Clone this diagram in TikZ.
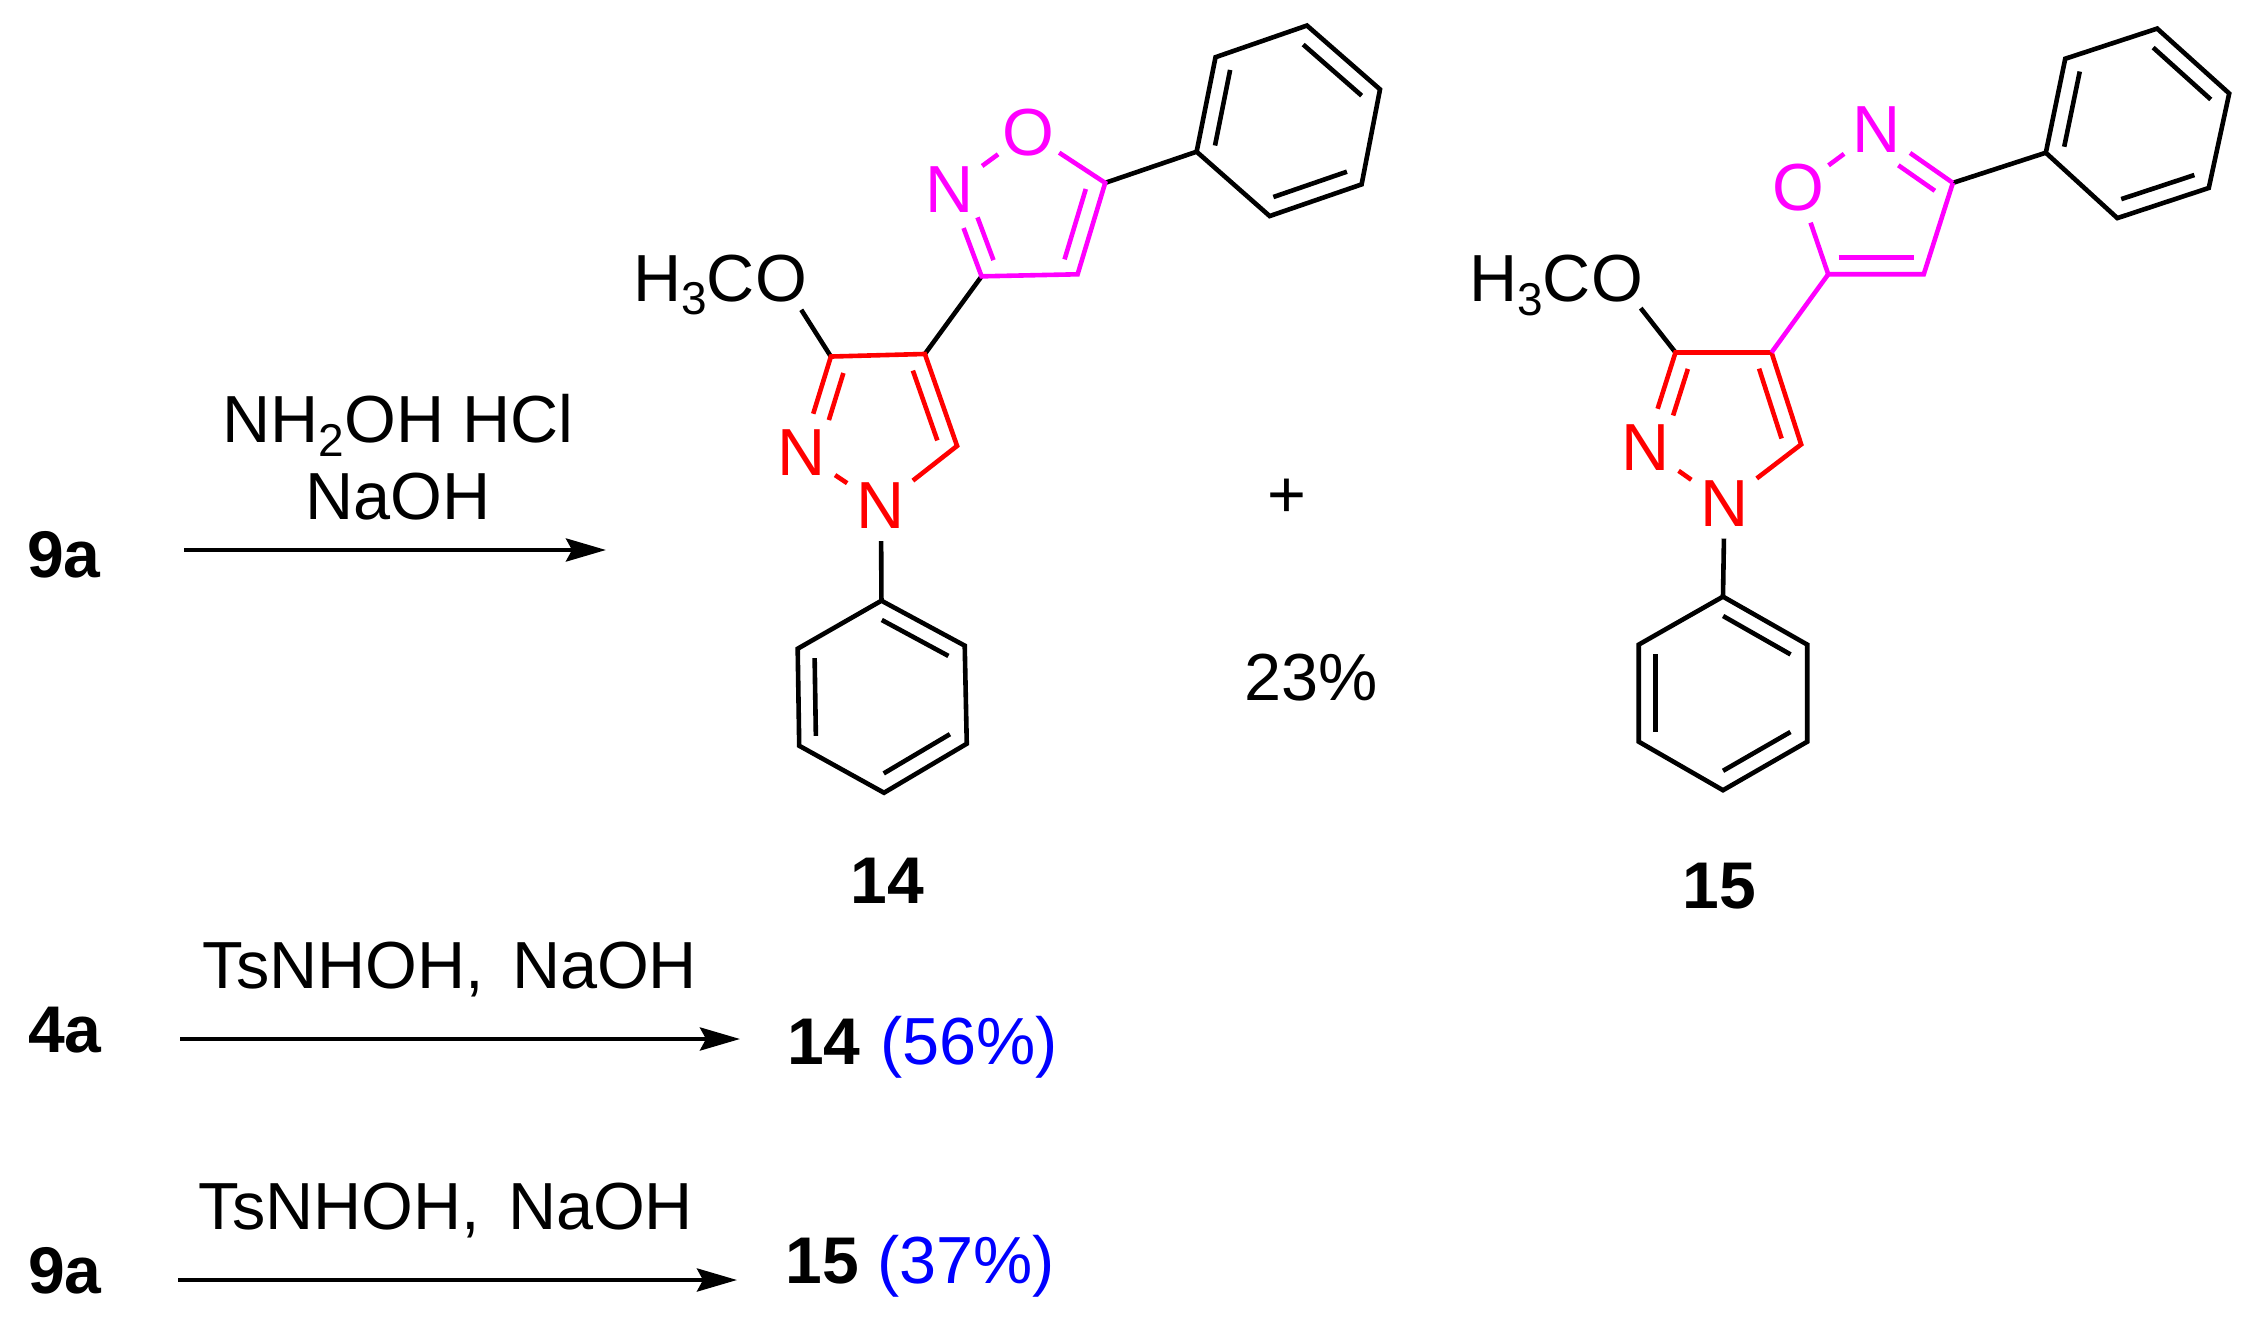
\documentclass[tikz,border=0pt]{standalone}
\usepackage{fontspec}
\setmainfont{Liberation Sans}
\usetikzlibrary{calc,arrows.meta}
\definecolor{ringred}{RGB}{255,0,0}
\definecolor{ringmag}{RGB}{255,0,255}
\definecolor{yieldblue}{RGB}{0,0,255}
\newcommand{\lowsub}[1]{\raisebox{-6.7pt}{\fontsize{23}{23}\selectfont #1}}
\newcommand{\innerbond}[4]{\draw ($(#1)!#3!(#2)!8.4pt!90:(#2)$) -- ($(#1)!#4!(#2)!8.4pt!90:(#2)$);}
\tikzset{
  txt/.style={font=\fontsize{33.3}{40}\selectfont,inner sep=0pt,anchor=base},
  boldtxt/.style={font=\fontsize{33}{40}\selectfont\bfseries,inner sep=0pt,anchor=base},
  yieldtxt/.style={txt,text=yieldblue},
  bond/.style={line width=2.3pt,line join=miter,line cap=butt},
  atomN/.style={circle,inner sep=0pt,minimum size=38.3pt,font=\fontsize{33.3}{40}\selectfont},
  atomO/.style={circle,inner sep=0pt,minimum size=34.2pt,font=\fontsize{33.3}{40}\selectfont},
  rxn/.style={line width=2.2pt,-{Stealth[length=20pt,width=11.5pt,inset=3pt]}},
  mol/.style={x=0.2554pt,y=-0.2554pt}
}
\begin{document}
\begin{tikzpicture}[x=0.5pt,y=-0.5pt]
\useasboundingbox (0,0) rectangle (2259,1320);
\fill[white] (0,0) rectangle (2259,1320);

% first reaction
\node[boldtxt] (s1) at (64,578) {9a};
\node[txt] (r1a) at (398,443) {NH\lowsub{2}OH HCl};
\node[txt] (r1b) at (398,520) {NaOH};
\coordinate (a1s) at (184,550);
\coordinate (a1e) at (606,550);
\draw[rxn] (a1s) -- (a1e);

% compound 14
\begin{scope}[shift={(600,0)},mol,bond]
  \coordinate (aC3) at (452,698);
  \coordinate (aC4) at (636,693);
  \coordinate (aC5) at (699,873);
  \coordinate (aIa) at (747,541);
  \coordinate (aIb) at (935,537);
  \coordinate (aIc) at (989,358);
  \coordinate (aq1) at (1168,297);
  \coordinate (aq2) at (1205,112);
  \coordinate (aq3) at (1384,50);
  \coordinate (aq4) at (1527,175);
  \coordinate (aq5) at (1491,361);
  \coordinate (aq6) at (1311,423);
  \coordinate (ap1) at (551,1176);
  \coordinate (ap2) at (387,1270);
  \coordinate (ap3) at (390,1460);
  \coordinate (ap4) at (556,1552);
  \coordinate (ap5) at (718,1456);
  \coordinate (ap6) at (714,1264);
  \node[atomN,text=ringred] (aN1) at (550,990) {N};
  \node[atomN,text=ringred] (aN2) at (394,886) {N};
  \node[atomN,text=ringmag] (aNi) at (684,372) {N};
  \node[atomO,text=ringmag] (aOi) at (838,259) {O};
  \node[atomO] (aOm) at (355,545) {O};
  \node[txt,anchor=base east] (aCH) at (308,590) {H\lowsub{3}C};
  % black bonds
  \draw (aOm) -- (aC3);
  \draw (aC4) -- (aIa);
  \draw (aIc) -- (aq1);
  \draw[shorten <=-2.6pt] (aN1) -- (ap1);
  \draw (aq1) -- (aq2) -- (aq3) -- (aq4) -- (aq5) -- (aq6) -- cycle;
  \innerbond{aq2}{aq1}{.1}{.9}
  \innerbond{aq4}{aq3}{.1}{.9}
  \innerbond{aq6}{aq5}{.1}{.9}
  \draw (ap1) -- (ap2) -- (ap3) -- (ap4) -- (ap5) -- (ap6) -- cycle;
  \innerbond{ap6}{ap1}{.1}{.9}
  \innerbond{ap2}{ap3}{.1}{.9}
  \innerbond{ap4}{ap5}{.1}{.9}
  % red ring
  \begin{scope}[draw=ringred]
    \draw (aN2) -- (aC3) -- (aC4) -- (aC5) -- (aN1);
    \draw (aN2) -- (aN1);
    \innerbond{aC3}{aN2}{.12}{.61}
    \innerbond{aC5}{aC4}{.12}{.88}
  \end{scope}
  % magenta ring
  \begin{scope}[draw=ringmag]
    \draw (aNi) -- (aIa) -- (aIb) -- (aIc) -- (aOi);
    \draw (aNi) -- (aOi);
    \innerbond{aIb}{aIc}{.11}{.88}
    \innerbond{aNi}{aIa}{.385}{.88}
  \end{scope}
\end{scope}

% plus and yield
\node[txt] (plus) at (1287,518) {+};
\node[txt] (y23) at (1311,700) {23\%};

% compound 15
\begin{scope}[shift={(1440,0)},mol,bond]
  \coordinate (bC3) at (461,690);
  \coordinate (bC4) at (649,690);
  \coordinate (bC5) at (707,870);
  \coordinate (bIa) at (760,537);
  \coordinate (bIb) at (947,537);
  \coordinate (bIc) at (1004,358);
  \coordinate (bq1) at (1186,299);
  \coordinate (bq2) at (1224,115);
  \coordinate (bq3) at (1404,56);
  \coordinate (bq4) at (1545,183);
  \coordinate (bq5) at (1505,368);
  \coordinate (bq6) at (1326,427);
  \coordinate (bp1) at (554,1168);
  \coordinate (bp2) at (389,1262);
  \coordinate (bp3) at (389,1452);
  \coordinate (bp4) at (554,1547);
  \coordinate (bp5) at (719,1452);
  \coordinate (bp6) at (719,1262);
  \node[atomN,text=ringred] (bN1) at (557,985) {N};
  \node[atomN,text=ringred] (bN2) at (402,876) {N};
  \node[atomN,text=ringmag] (bNi) at (855,254) {N};
  \node[atomO,text=ringmag] (bOi) at (702,367) {O};
  \node[atomO] (bOm) at (348,546) {O};
  \node[txt,anchor=base east] (bCH) at (300,591) {H\lowsub{3}C};
  % black bonds
  \draw (bOm) -- (bC3);
  \draw (bIc) -- (bq1);
  \draw[shorten <=-2.6pt] (bN1) -- (bp1);
  \draw (bq1) -- (bq2) -- (bq3) -- (bq4) -- (bq5) -- (bq6) -- cycle;
  \innerbond{bq2}{bq1}{.1}{.9}
  \innerbond{bq4}{bq3}{.1}{.9}
  \innerbond{bq6}{bq5}{.1}{.9}
  \draw (bp1) -- (bp2) -- (bp3) -- (bp4) -- (bp5) -- (bp6) -- cycle;
  \innerbond{bp6}{bp1}{.1}{.9}
  \innerbond{bp2}{bp3}{.1}{.9}
  \innerbond{bp4}{bp5}{.1}{.9}
  % red ring
  \begin{scope}[draw=ringred]
    \draw (bN2) -- (bC3) -- (bC4) -- (bC5) -- (bN1);
    \draw (bN2) -- (bN1);
    \innerbond{bC3}{bN2}{.12}{.61}
    \innerbond{bC5}{bC4}{.12}{.88}
  \end{scope}
  % magenta ring
  \begin{scope}[draw=ringmag]
    \draw (bC4) -- (bIa);
    \draw (bIc) -- (bIb) -- (bIa) -- (bOi);
    \draw (bOi) -- (bNi) -- (bIc);
    \innerbond{bIa}{bIb}{.11}{.9}
    \innerbond{bIc}{bNi}{.11}{.59}
  \end{scope}
\end{scope}

% compound numbers
\node[boldtxt] (n14) at (887,903) {14};
\node[boldtxt] (n15) at (1719,908) {15};

% second reaction
\node[boldtxt] (s2) at (65,1052) {4a};
\node[txt] (r2) at (450,988) {TsNHOH,\hspace{0.42em}NaOH};
\coordinate (a2s) at (180,1039);
\coordinate (a2e) at (740,1039);
\draw[rxn] (a2s) -- (a2e);
\node[boldtxt] (p2) at (824,1064) {14};
\node[yieldtxt] (y2) at (969,1064) {(56\%)};

% third reaction
\node[boldtxt] (s3) at (65,1293) {9a};
\node[txt] (r3) at (446,1229) {TsNHOH,\hspace{0.42em}NaOH};
\coordinate (a3s) at (178,1280);
\coordinate (a3e) at (737,1280);
\draw[rxn] (a3s) -- (a3e);
\node[boldtxt] (p3) at (822,1283) {15};
\node[yieldtxt] (y3) at (966,1283) {(37\%)};
\end{tikzpicture}
\end{document}
